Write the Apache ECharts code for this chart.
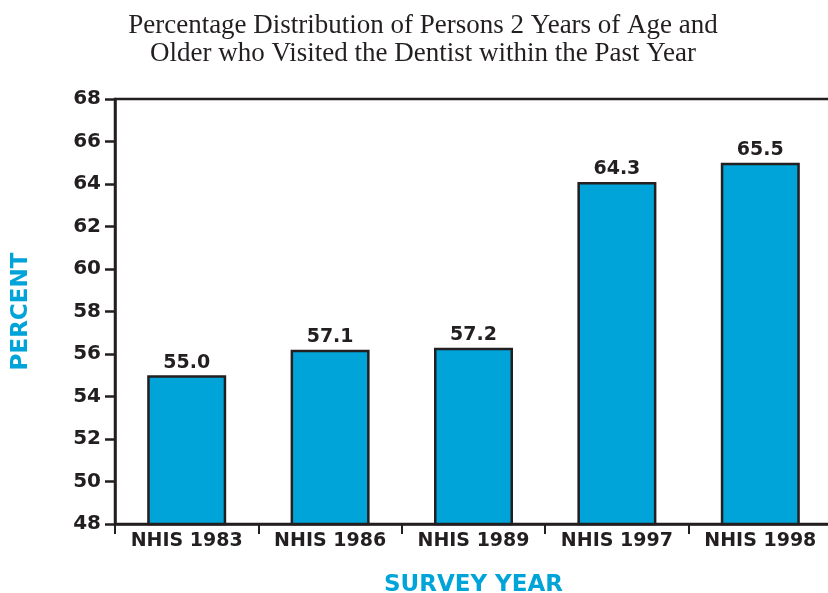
<!DOCTYPE html>
<html>
<head>
<meta charset="utf-8">
<style>
  html, body { margin: 0; padding: 0; background: #fff; }
  #chart { width: 828px; height: 593px; }
</style>
<script src="https://cdn.jsdelivr.net/npm/echarts@6.0.0/dist/echarts.min.js"></script>
</head>
<body>
<div id="chart"></div>
<script>
    const categories = ["NHIS 1983", "NHIS 1986", "NHIS 1989", "NHIS 1997", "NHIS 1998"];
    // bar heights as drawn in the picture
    const barValues = [55.0, 56.2, 56.3, 64.1, 65.0];
    // printed value labels
    const valueLabels = ["55.0", "57.1", "57.2", "64.3", "65.5"];

    const ink = "#231f20";
    const blue = "#00a4d8";
    const sans = "DejaVu Sans, sans-serif";

    const chart = echarts.init(document.getElementById("chart"), null, { renderer: "canvas" });

    chart.setOption({
        animation: false,
        title: {
            text: "Percentage Distribution of Persons 2 Years of Age and\nOlder who Visited the Dentist within the Past Year",
            left: 418,
            top: 7,
            textAlign: "center",
            textStyle: {
                fontFamily: "Liberation Serif, serif",
                fontWeight: "normal",
                fontSize: 27,
                lineHeight: 28,
                color: ink
            }
        },
        grid: {
            left: 115,
            top: 99,
            bottom: 69,
            width: 717,
            outerBoundsMode: "none",
            containLabel: false,
            show: true,
            borderColor: ink,
            borderWidth: 2.5
        },
        xAxis: {
            type: "category",
            data: categories,
            name: "SURVEY YEAR",
            nameLocation: "middle",
            nameGap: 50,
            nameMoveOverlap: false,
            nameTextStyle: {
                color: blue,
                fontFamily: sans,
                fontWeight: "bold",
                fontSize: 23
            },
            axisLine: { lineStyle: { color: ink, width: 2.5 } },
            axisTick: { show: true, length: 10, interval: 0, lineStyle: { color: ink, width: 2 } },
            axisLabel: {
                color: ink,
                fontFamily: sans,
                fontWeight: "bold",
                fontSize: 19,
                margin: 8,
                interval: 0
            }
        },
        yAxis: {
            type: "value",
            min: 48,
            max: 68,
            interval: 2,
            name: "PERCENT",
            nameLocation: "middle",
            nameRotate: 90,
            nameGap: 82,
            nameMoveOverlap: false,
            nameTextStyle: {
                color: blue,
                fontFamily: sans,
                fontWeight: "bold",
                fontSize: 23
            },
            axisLine: { show: true, lineStyle: { color: ink, width: 2.5 } },
            axisTick: { show: true, length: 10, lineStyle: { color: ink, width: 2.5 } },
            splitLine: { show: false },
            axisLabel: {
                color: ink,
                fontFamily: sans,
                fontWeight: "bold",
                fontSize: 20,
                margin: 14
            }
        },
        series: [{
            type: "bar",
            data: barValues,
            barWidth: 79,
            itemStyle: { color: blue, borderColor: ink, borderWidth: 2.5 },
            label: {
                show: true,
                position: "top",
                distance: 3,
                color: ink,
                fontFamily: sans,
                fontWeight: "bold",
                fontSize: 19,
                formatter: (p) => valueLabels[p.dataIndex]
            }
        }]
    });
</script>
</body>
</html>
